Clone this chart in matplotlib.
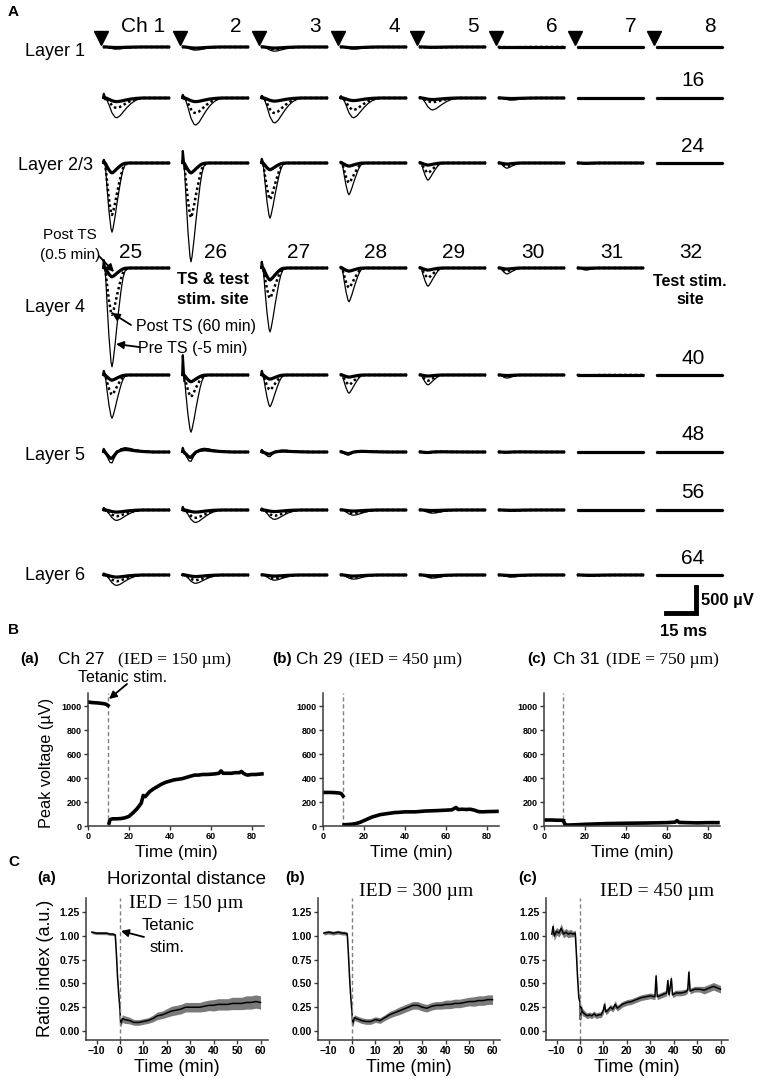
import matplotlib
matplotlib.use('Agg')
import matplotlib.pyplot as plt
import numpy as np
from matplotlib.ticker import FormatStrFormatter

plt.rcParams['font.family'] = ['Liberation Sans', 'DejaVu Sans']
SERIF = ['Liberation Serif', 'DejaVu Serif']

W, H = 767, 1080
fig = plt.figure(figsize=(W / 100, H / 100), dpi=100)


def px_axes(left, top, width, height, **kw):
    return fig.add_axes([left / W, 1 - (top + height) / H, width / W, height / H], **kw)


# ---------------- panel A data ----------------
nan = np.nan
# waveform templates (normalised; time in ms)
sharp_t = [0, 0.5, 1, 1.5, 2, 3, 4, 4.5, 5, 6, 7, 8, 9, 10, 11, 13, 33.5]
sharp_v = [0, 0.05, 0, -0.15, -0.35, -0.7, -0.95, -1.0, -0.95, -0.78, -0.58, -0.4, -0.23, -0.1, -0.03, 0, 0]
broad_t = [0, 0.5, 1.5, 3, 4.5, 6, 7, 8.5, 10, 12, 14, 16, 18, 20, 33.5]
broad_v = [0, 0.1, 0, -0.35, -0.75, -0.97, -1.0, -0.9, -0.72, -0.48, -0.28, -0.14, -0.05, 0, 0]
biph_t = [0, 0.5, 1.5, 2.5, 3.5, 4.5, 5.5, 7, 9, 11, 13, 16, 20, 25, 33.5]
biph_v = [0, 0.2, -0.2, -0.6, -0.95, -1.0, -0.6, 0.0, 0.3, 0.4, 0.35, 0.2, 0.08, 0, 0]
row_template = ['broad', 'broad', 'sharp', 'sharp', 'sharp', 'biph', 'broad', 'broad']

# peak amplitudes (uV), rows = channels 1-8, 9-16, ..., 57-64
pre_ts = [
    [40, 60, 80, 40, 15, 10, 0, 0],
    [380, 520, 480, 380, 230, 40, 0, 0],
    [1330, 1900, 1060, 610, 330, 100, 20, 0],
    [1900, nan, 1230, 650, 350, 115, 40, nan],
    [830, 1100, 610, 350, 190, 60, 15, 0],
    [210, 180, 90, 60, 20, 10, 0, 0],
    [200, 240, 180, 100, 60, 20, 0, 0],
    [200, 160, 100, 80, 60, 40, 20, 0],
]
post_60 = [
    [20, 30, 40, 20, 10, 5, 0, 0],
    [190, 290, 290, 230, 80, 20, 0, 0],
    [1000, 1050, 700, 380, 190, 60, 10, 0],
    [900, nan, 580, 380, 190, 60, 20, nan],
    [380, 420, 290, 190, 110, 30, 10, 0],
    [130, 110, 50, 40, 10, 5, 0, 0],
    [120, 150, 110, 60, 40, 10, 0, 0],
    [120, 100, 60, 50, 40, 20, 10, 0],
]
post_05 = [
    [10, 20, 20, 15, 5, 0, 0, 0],
    [70, 70, 60, 50, 30, 10, 0, 0],
    [190, 190, 130, 60, 40, 20, 5, 0],
    [170, nan, 230, 60, 40, 20, 5, nan],
    [100, 130, 80, 40, 20, 10, 0, 0],
    [120, 100, 40, 30, 10, 5, 0, 0],
    [40, 40, 30, 20, 10, 5, 0, 0],
    [40, 30, 20, 20, 15, 10, 5, 0],
]
artifact = [
    [0, 0, 0, 0, 0, 0, 0, 0],
    [80, 60, 40, 30, 0, 0, 0, 0],
    [60, 230, 80, 0, 0, 0, 0, 0],
    [150, nan, 120, 0, 0, 0, 0, nan],
    [80, 380, 80, 0, 0, 0, 0, 0],
    [60, 80, 40, 0, 0, 0, 0, 0],
    [40, 60, 30, 0, 0, 0, 0, 0],
    [30, 20, 0, 0, 0, 0, 0, 0],
]
col_labels = ['Ch 1', '2', '3', '4', '5', '6', '7', '8']
row4_labels = ['25', '26', '27', '28', '29', '30', '31', '32']
right_labels = {1: '16', 2: '24', 4: '40', 5: '48', 6: '56', 7: '64'}
layer_labels = ['Layer 1', 'Layer 2/3', 'Layer 4', 'Layer 5', 'Layer 6']
layer_y = [52, 165, 307, 456, 576]

templates = {'sharp': (sharp_t, sharp_v), 'broad': (broad_t, broad_v), 'biph': (biph_t, biph_v)}

UV_PX = 500 / 26.0          # uV per pixel
col_x0 = [103, 182, 261, 340, 419, 498, 577, 656]
row_base = [47, 98, 163, 268, 375, 452, 510, 575]
row4_dx = [28, 34, 38, 36, 35, 35, 35, 35]

for r in range(8):
    tt, vv = templates[row_template[r]]
    tt = np.array(tt)
    vv = np.array(vv)
    for c in range(8):
        ax = px_axes(col_x0[c], row_base[r] - 20, 67, 40)
        ax.set_xlim(0, 33.5)
        ax.set_ylim(-20 * UV_PX, 20 * UV_PX)
        ax.axis('off')
        if np.isnan(pre_ts[r][c]):
            continue
        ax.plot(tt, vv * pre_ts[r][c], color='k', lw=0.9, clip_on=False)
        ax.plot(tt, vv * post_60[r][c], color='k', lw=1.8, ls=(0, (1, 1.1)), clip_on=False)
        ax.plot(tt, vv * post_05[r][c], color='k', lw=2.3, clip_on=False, solid_capstyle='butt')
        if artifact[r][c] > 0:
            ax.plot([0.1, 0.4, 1.2], [0, artifact[r][c], -0.3 * artifact[r][c]], color='k', lw=1.6,
                    clip_on=False)
        if r == 0:
            ax.plot(-0.9, 9 * UV_PX, marker='v', ms=10, color='k', clip_on=False)
        if r == 7 and c == 7:
            # scale bar: 15 ms x 500 uV
            cx, cy = 20.0, -38 * UV_PX
            ax.plot([cx - 15, cx, cx], [cy, cy, cy + 500], color='k', lw=3.5,
                    clip_on=False, solid_joinstyle='miter', solid_capstyle='projecting')

# overlay in pixel coordinates for text and arrows
ov = fig.add_axes([0, 0, 1, 1], zorder=10)
ov.set_xlim(0, W)
ov.set_ylim(H, 0)
ov.axis('off')


def txt(x, y, s, size, ha='center', **kw):
    ov.text(x, y, s, fontsize=size, ha=ha, va='center', **kw)


def arrow(tail, head):
    ov.annotate('', xy=head, xytext=tail,
                arrowprops=dict(arrowstyle='-|>', color='k', lw=1.3, mutation_scale=11,
                                shrinkA=0, shrinkB=0))


txt(8, 12, 'A', 11, ha='left', fontweight='bold')
for c in range(8):
    x = col_x0[c] + (40 if c == 0 else 54)
    txt(x, 27, col_labels[c], 15)
    txt(col_x0[c] + row4_dx[c], 252, row4_labels[c], 15)
for r, lab in right_labels.items():
    txt(col_x0[7] + 37, row_base[r] - 17, lab, 15)
for lab, y in zip(layer_labels, layer_y):
    txt(55, y, lab, 13)

txt(70, 235, 'Post TS', 11)
txt(70, 255, '(0.5 min)', 11)
arrow((99, 256), (114, 272))
txt(213, 279, 'TS & test', 12, fontweight='bold')
txt(213, 299, 'stim. site', 12, fontweight='bold')
txt(690, 282, 'Test stim.', 11.5, fontweight='bold')
txt(690, 300, 'site', 11.5, fontweight='bold')
txt(136, 326, 'Post TS (60 min)', 11.5, ha='left')
arrow((131, 325), (112, 313))
txt(138, 348, 'Pre TS (-5 min)', 11.5, ha='left')
arrow((139, 347), (116, 344))
txt(701, 600, '500 \u00b5V', 12, ha='left', fontweight='bold')
txt(683, 631, '15 ms', 12, fontweight='bold')

# ---------------- panel B data ----------------
b_pre_t = [0, 2, 4, 6, 8, 9, 9.8]
b27_pre = [1035, 1030, 1028, 1025, 1020, 1015, 1005]
b27_post_t = [10.3, 10.6, 11, 12, 14, 16, 18, 20, 22, 24, 26, 27, 28, 30, 32, 34, 36, 38, 40, 42,
              44, 46, 48, 50, 52, 54, 56, 58, 60, 62, 64, 65, 66, 68, 70, 72, 74, 75, 76, 77, 78,
              80, 82, 85]
b27_post = [25, 45, 55, 60, 60, 62, 68, 80, 110, 145, 190, 255, 245, 285, 310, 330, 350, 365, 375,
            385, 390, 395, 405, 415, 425, 425, 430, 430, 432, 435, 440, 460, 440, 440, 440, 445,
            445, 455, 440, 430, 425, 430, 430, 435]
b29_pre = [280, 280, 280, 278, 275, 270, 250]
b29_post_t = [10.3, 12, 14, 16, 18, 20, 22, 24, 26, 28, 30, 32, 35, 38, 40, 45, 50, 55, 60, 63, 65,
              66, 68, 70, 72, 74, 76, 78, 80, 85]
b29_post = [10, 12, 15, 20, 30, 45, 60, 75, 85, 95, 100, 105, 112, 115, 118, 118, 125, 128, 132,
            135, 155, 138, 140, 138, 140, 132, 120, 118, 120, 122]
b31_pre_t = [0, 2, 4, 6, 8, 9, 9.5]
b31_pre = [50, 50, 50, 48, 48, 47, 45]
b31_post_t = [10, 10.5, 12, 15, 20, 25, 30, 40, 50, 60, 64, 65, 66, 70, 75, 80, 85]
b31_post = [25, 10, 8, 10, 14, 17, 20, 23, 25, 28, 32, 45, 30, 28, 26, 28, 28]
b_stim = [10, 10, 9.5]

b_panels = [
    (88, b_pre_t, b27_pre, b27_post_t, b27_post, b_stim[0]),
    (323, b_pre_t, b29_pre, b29_post_t, b29_post, b_stim[1]),
    (544, b31_pre_t, b31_pre, b31_post_t, b31_post, b_stim[2]),
]


def style_axes(ax, size):
    for s in ('top', 'right'):
        ax.spines[s].set_visible(False)
    for s in ('left', 'bottom'):
        ax.spines[s].set_color('#3a3a3a')
        ax.spines[s].set_linewidth(1.1)
    ax.tick_params(labelsize=size, width=1, length=3, pad=1.5, color='#3a3a3a')
    for lbl in ax.get_xticklabels() + ax.get_yticklabels():
        lbl.set_fontweight('bold')


for left, pt, pv, qt, qv, stim in b_panels:
    ax = px_axes(left, 693, 176, 133)
    ax.axvline(stim, color='#808080', ls='--', lw=1, dashes=(3, 2))
    ax.plot(pt, pv, color='k', lw=2.6)
    ax.plot(qt, qv, color='k', lw=2.6)
    ax.set_xlim(0, 86)
    ax.set_ylim(0, 1110)
    ax.set_xticks([0, 20, 40, 60, 80])
    ax.set_yticks([0, 200, 400, 600, 800, 1000])
    style_axes(ax, 6.5)
    txt(left + 88, 852, 'Time (min)', 12.5)

txt(8, 630, 'B', 11, ha='left', fontweight='bold')
txt(20, 659, '(a)', 11, ha='left', fontweight='bold')
txt(58, 660, 'Ch 27', 12.5, ha='left')
txt(118, 660, '(IED = 150 \u00b5m)', 12.5, ha='left', family=SERIF)
txt(272, 659, '(b)', 11, ha='left', fontweight='bold')
txt(296, 660, 'Ch 29', 12.5, ha='left')
txt(349, 660, '(IED = 450 \u00b5m)', 12.5, ha='left', family=SERIF)
txt(527, 659, '(c)', 11, ha='left', fontweight='bold')
txt(553, 660, 'Ch 31', 12.5, ha='left')
txt(606, 660, '(IDE = 750 \u00b5m)', 12.5, ha='left', family=SERIF)
txt(78, 678, 'Tetanic stim.', 11.5, ha='left')
arrow((127, 684), (109, 699))
ov.text(47, 763, 'Peak voltage (\u00b5V)', fontsize=11.7, rotation=90, ha='center', va='center')

# ---------------- panel C data ----------------
c_t = [-12, -10, -8, -6, -4, -3, -2, -1.5, -1, -0.5, 0, 0.3, 1, 2, 4, 6, 8, 10, 12, 14, 16, 18, 20,
       22, 24, 26, 28, 30, 32, 34, 36, 38, 40, 42, 44, 46, 48, 50, 52, 54, 56, 58, 60]
ratio_a = [1.04, 1.03, 1.03, 1.03, 1.02, 1.02, 1.01, 0.80, 0.55, 0.38, 0.22, 0.07, 0.13, 0.12,
           0.11, 0.09, 0.09, 0.10, 0.11, 0.13, 0.16, 0.17, 0.19, 0.21, 0.22, 0.23, 0.25, 0.25,
           0.25, 0.25, 0.26, 0.27, 0.27, 0.28, 0.28, 0.28, 0.29, 0.29, 0.29, 0.30, 0.30, 0.31, 0.30]
sd_a = [0.015, 0.015, 0.015, 0.015, 0.015, 0.015, 0.015, 0.02, 0.02, 0.02, 0.02, 0.03, 0.04, 0.04,
        0.035, 0.03, 0.03, 0.03, 0.03, 0.035, 0.04, 0.04, 0.045, 0.05, 0.05, 0.05, 0.05, 0.05,
        0.05, 0.05, 0.055, 0.055, 0.06, 0.06, 0.06, 0.06, 0.065, 0.065, 0.065, 0.07, 0.07, 0.07, 0.07]
ratio_b = [1.03, 1.04, 1.03, 1.04, 1.03, 1.03, 1.02, 0.80, 0.55, 0.35, 0.20, 0.07, 0.14, 0.13,
           0.11, 0.10, 0.10, 0.12, 0.11, 0.14, 0.17, 0.19, 0.21, 0.23, 0.25, 0.27, 0.27, 0.25,
           0.24, 0.26, 0.27, 0.27, 0.28, 0.28, 0.29, 0.29, 0.30, 0.31, 0.31, 0.32, 0.32, 0.33, 0.33]
sd_b = [0.02, 0.02, 0.02, 0.02, 0.02, 0.02, 0.02, 0.02, 0.02, 0.02, 0.02, 0.03, 0.03, 0.03,
        0.03, 0.03, 0.03, 0.03, 0.03, 0.03, 0.035, 0.035, 0.04, 0.04, 0.04, 0.04, 0.04, 0.04,
        0.04, 0.04, 0.04, 0.04, 0.045, 0.045, 0.045, 0.045, 0.045, 0.045, 0.05, 0.05, 0.05, 0.05, 0.05]
c_t_c = [-12, -11.5, -11, -10, -9, -8, -7, -6, -5, -4, -3, -2, -1.5, -1, -0.5, 0, 0.2, 0.5, 1, 2,
         3, 4, 5, 6, 7, 8, 9, 10, 10.5, 11, 12, 13, 14, 15, 16, 18, 20, 22, 24, 26, 28, 30, 32,
         32.5, 33, 35, 37, 37.5, 38, 39, 39.5, 41, 43, 45, 46, 46.5, 47, 49, 51, 53, 55, 57, 59, 60]
ratio_c = [1.02, 1.10, 1.00, 1.05, 1.03, 1.08, 1.02, 1.04, 1.02, 1.03, 1.02, 1.03,
           0.80, 0.55, 0.35, 0.30,
           0.12, 0.25, 0.20, 0.18, 0.16, 0.17, 0.16, 0.18, 0.16, 0.17, 0.17,
           0.22, 0.28, 0.20, 0.22, 0.25, 0.23, 0.28, 0.24,
           0.28, 0.30, 0.31, 0.33, 0.35, 0.36, 0.37, 0.36,
           0.58, 0.36, 0.38, 0.40, 0.53, 0.38, 0.55, 0.38,
           0.40, 0.40, 0.41, 0.43, 0.62, 0.42, 0.44,
           0.44, 0.43, 0.45, 0.47, 0.45, 0.44]
sd_c = [0.05, 0.04, 0.05, 0.04, 0.04, 0.05, 0.04, 0.04, 0.04, 0.04, 0.03, 0.03,
        0.03, 0.03, 0.03, 0.03,
        0.04, 0.04, 0.04, 0.03, 0.03, 0.03, 0.03, 0.03, 0.03, 0.03, 0.03,
        0.04, 0.04, 0.03, 0.03, 0.03, 0.03, 0.04, 0.03,
        0.03, 0.03, 0.03, 0.03, 0.03, 0.03, 0.03, 0.03,
        0.04, 0.03, 0.03, 0.03, 0.04, 0.03, 0.04, 0.03,
        0.03, 0.03, 0.03, 0.03, 0.04, 0.03, 0.03,
        0.03, 0.04, 0.04, 0.04, 0.04, 0.04]

c_panels = [(86, c_t, ratio_a, sd_a), (318, c_t, ratio_b, sd_b), (546, c_t_c, ratio_c, sd_c)]
for left, t, m, s in c_panels:
    t = np.array(t)
    m = np.array(m)
    s = np.array(s)
    ax = px_axes(left, 898, 182, 142)
    ax.fill_between(t, m - s, m + s, color='#7a7a7a', lw=0)
    ax.plot(t, m, color='k', lw=1.1)
    ax.axvline(0, color='#808080', ls='--', lw=1, dashes=(3, 2))
    ax.set_xlim(-14.5, 63.2)
    ax.set_ylim(-0.095, 1.4)
    ax.set_xticks([-10, 0, 10, 20, 30, 40, 50, 60])
    ax.set_yticks([0, 0.25, 0.5, 0.75, 1.0, 1.25])
    ax.yaxis.set_major_formatter(FormatStrFormatter('%.2f'))
    style_axes(ax, 7.5)
    txt(left + 91, 1068, 'Time (min)', 13)

txt(8, 862, 'C', 11, ha='left', fontweight='bold')
txt(37, 878, '(a)', 11, ha='left', fontweight='bold')
txt(107, 880, 'Horizontal distance', 13.5, ha='left')
txt(186, 903, 'IED = 150 \u00b5m', 14, family=SERIF)
txt(285, 878, '(b)', 11, ha='left', fontweight='bold')
txt(416, 892, 'IED = 300 \u00b5m', 14, family=SERIF)
txt(518, 878, '(c)', 11, ha='left', fontweight='bold')
txt(657, 892, 'IED = 450 \u00b5m', 14, family=SERIF)
txt(142, 925, 'Tetanic', 12, ha='left')
txt(150, 947, 'stim.', 12, ha='left')
arrow((144, 937), (121, 931))
ov.text(45, 968, 'Ratio index (a.u.)', fontsize=13, rotation=90, ha='center', va='center')

fig.savefig('out.png', dpi=100)
